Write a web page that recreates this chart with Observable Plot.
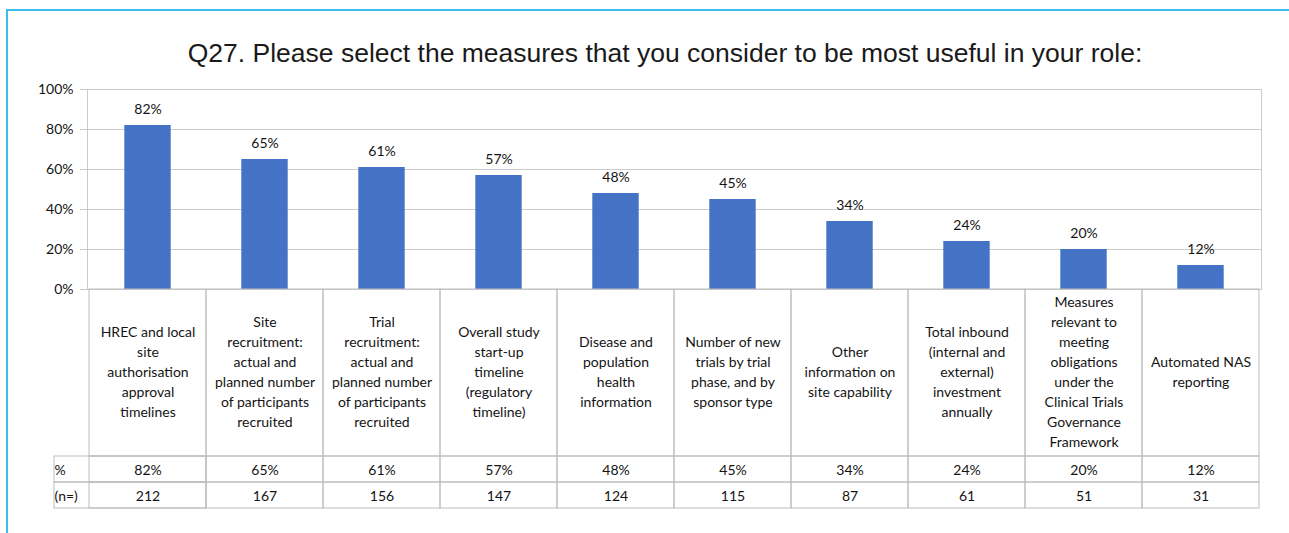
<!DOCTYPE html>
<html>
<head>
<meta charset="utf-8">
<script src="https://cdn.jsdelivr.net/npm/d3@7"></script>
<script src="https://cdn.jsdelivr.net/npm/@observablehq/plot@0.6"></script>
<style>
  body { margin: 0; background: #fff; }
  #wrap { position: relative; width: 1289px; height: 533px; overflow: hidden; }
  #frame { position: absolute; left: 6px; top: 9px; width: 1400px; height: 600px; border: 2px solid #3bbfea; }
  #title { position: absolute; left: 0; top: 38px; width: 1330px; text-align: center; line-height: 30px;
           font: 26.5px "Liberation Sans", Arial, sans-serif; color: #1a1a1a; white-space: nowrap; }
  #chart { position: absolute; left: 0; top: 0; }
</style>
</head>
<body>
<div id="wrap">
  <div id="frame"></div>
  <div id="title">Q27. Please select the measures that you consider to be most useful in your role:</div>
  <div id="chart"></div>
</div>
<script>
// Measures (as wrapped in the table), share of respondents and respondent counts
const categories = [
  "HREC and local\nsite\nauthorisation\napproval\ntimelines",
  "Site\nrecruitment:\nactual and\nplanned number\nof participants\nrecruited",
  "Trial\nrecruitment:\nactual and\nplanned number\nof participants\nrecruited",
  "Overall study\nstart-up\ntimeline\n(regulatory\ntimeline)",
  "Disease and\npopulation\nhealth\ninformation",
  "Number of new\ntrials by trial\nphase, and by\nsponsor type",
  "Other\ninformation on\nsite capability",
  "Total inbound\n(internal and\nexternal)\ninvestment\nannually",
  "Measures\nrelevant to\nmeeting\nobligations\nunder the\nClinical Trials\nGovernance\nFramework",
  "Automated NAS\nreporting"
];
const shares = [0.82, 0.65, 0.61, 0.57, 0.48, 0.45, 0.34, 0.24, 0.20, 0.12];
const counts = [212, 167, 156, 147, 124, 115, 87, 61, 51, 31];
const yTicks = [0, 0.2, 0.4, 0.6, 0.8, 1.0];
const rowLabels = ["%", "(n=)"];

const data = categories.map((category, i) => ({category, share: shares[i], n: counts[i]}));
const pct = d3.format(".0%");

// table geometry below the 0% line (pixels)
const labelRowH = 167, valueRowH = 26;
const gridColor = "#cbcbcb", tableColor = "#bdbdbd", barColor = "#4472c4";
const zero = () => 0;
const fs = 14;

// one row of table cells, one cell per measure, hanging below the 0% line
const tableRow = (rows, top, bottom, extra = {}) =>
  Plot.barY(rows, {x: "category", y1: zero, y2: zero, insetTop: top, insetBottom: -bottom,
                   fill: "none", stroke: tableColor, ...extra});

const labelY = labelRowH / 2 - 2;
const pctRowY = labelRowH + valueRowH / 2 + 1.5;
const nRowY = labelRowH + 1.5 * valueRowH + 1.5;

const chart = Plot.plot({
  width: 1289,
  height: 533,
  marginLeft: 87,
  marginRight: 28,
  marginTop: 89,
  marginBottom: 244,
  style: {fontFamily: "Lato, 'Open Sans', sans-serif", fontSize: "14px", color: "#141414", background: "transparent"},
  x: {domain: categories, paddingInner: 0, paddingOuter: 0, axis: null},
  y: {domain: [0, 1], axis: null},
  marks: [
    // gridlines, extended left as tick marks
    Plot.ruleY(yTicks, {stroke: gridColor, insetLeft: -7}),
    Plot.frame({stroke: gridColor}),
    Plot.text(yTicks, {y: d => d, text: d => pct(d), frameAnchor: "left", textAnchor: "end", dx: -14, fontSize: fs}),
    // bars and value labels
    Plot.barY(data, {x: "category", y: "share", fill: barColor, insetLeft: 35.3, insetRight: 35.3}),
    Plot.text(data, {x: "category", y: "share", text: d => pct(d.share), dy: -16, fontSize: fs}),
    // data table
    tableRow(data, 0, labelRowH),
    tableRow(data, labelRowH, labelRowH + valueRowH),
    tableRow(data, labelRowH + valueRowH, labelRowH + 2 * valueRowH),
    tableRow([data[0]], labelRowH, labelRowH + valueRowH, {insetLeft: -35}),
    tableRow([data[0]], labelRowH + valueRowH, labelRowH + 2 * valueRowH, {insetLeft: -35}),
    Plot.text(data, {x: "category", y: zero, text: "category", dy: labelY,
                     lineAnchor: "middle", lineHeight: 20 / fs, fontSize: fs}),
    Plot.text(data, {x: "category", y: zero, text: d => pct(d.share), dy: pctRowY, fontSize: fs}),
    Plot.text(data, {x: "category", y: zero, text: d => String(d.n), dy: nRowY, fontSize: fs}),
    Plot.text([rowLabels[0]], {y: zero, text: d => d, frameAnchor: "left", textAnchor: "start", dx: -33,
                               dy: pctRowY, fontSize: fs}),
    Plot.text([rowLabels[1]], {y: zero, text: d => d, frameAnchor: "left", textAnchor: "start", dx: -33,
                               dy: nRowY, fontSize: fs})
  ]
});
document.getElementById("chart").appendChild(chart);
</script>
</body>
</html>
